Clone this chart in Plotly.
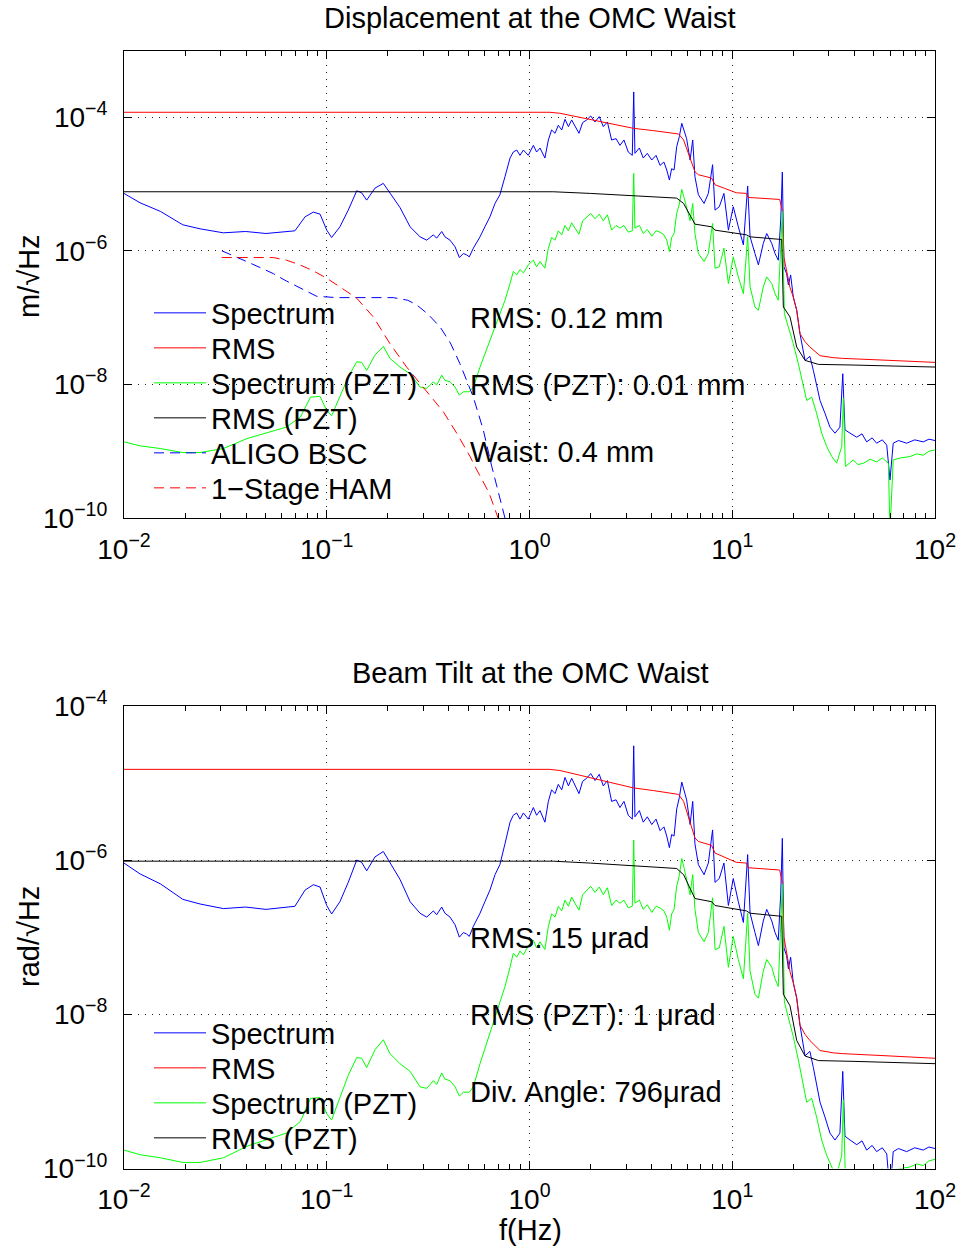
import numpy as np
import plotly.graph_objects as go

FONT = "Liberation Sans, Arial, Helvetica, sans-serif"
W, H = 960, 1249

# ---------------- data: (log10 f [Hz], log10 amplitude) ----------------
disp_spectrum = [
    (-2.000,-5.14),(-1.921,-5.28),(-1.820,-5.41),(-1.710,-5.61),(-1.625,-5.67),(-1.510,-5.73),
    (-1.400,-5.71),(-1.300,-5.74),(-1.157,-5.70),(-1.107,-5.49),(-1.066,-5.42),(-1.033,-5.45),
    (-1.000,-5.69),(-0.976,-5.80),(-0.935,-5.64),(-0.894,-5.39),(-0.852,-5.10),(-0.828,-5.13),
    (-0.803,-5.24),(-0.762,-5.06),(-0.721,-4.99),(-0.688,-5.14),(-0.639,-5.35),(-0.606,-5.54),
    (-0.589,-5.64),(-0.540,-5.79),(-0.507,-5.84),(-0.474,-5.76),(-0.458,-5.81),(-0.433,-5.71),
    (-0.417,-5.79),(-0.392,-5.84),(-0.367,-5.94),(-0.346,-6.10),(-0.326,-6.04),(-0.310,-6.06),
    (-0.297,-6.09),(-0.277,-5.96),(-0.244,-5.79),(-0.220,-5.64),(-0.195,-5.49),(-0.170,-5.29),
    (-0.146,-5.16),(-0.121,-4.89),(-0.096,-4.61),(-0.080,-4.52),(-0.063,-4.49),(-0.047,-4.57),
    (-0.030,-4.49),(-0.006,-4.57),(0.019,-4.42),(0.035,-4.52),(0.052,-4.46),(0.076,-4.61),
    (0.093,-4.34),(0.109,-4.19),(0.126,-4.24),(0.142,-4.12),(0.159,-4.19),(0.175,-4.03),
    (0.192,-4.14),(0.208,-4.04),(0.224,-4.14),(0.244,-4.24),(0.262,-4.08),(0.282,-4.04),
    (0.302,-3.98),(0.323,-4.07),(0.344,-3.99),(0.364,-4.14),(0.384,-4.07),(0.405,-4.34),
    (0.427,-4.32),(0.446,-4.42),(0.466,-4.34),(0.487,-4.52),(0.507,-4.57),(0.514,-3.62),
    (0.520,-4.54),(0.542,-4.46),(0.561,-4.61),(0.581,-4.54),(0.603,-4.64),(0.624,-4.57),
    (0.644,-4.72),(0.663,-4.67),(0.677,-4.79),(0.690,-4.94),(0.701,-4.77),(0.713,-4.79),
    (0.726,-4.44),(0.739,-4.29),(0.751,-4.09),(0.762,-4.19),(0.775,-4.32),(0.792,-4.64),
    (0.805,-4.34),(0.816,-4.89),(0.833,-5.16),(0.861,-5.29),(0.882,-5.14),(0.903,-4.71),
    (0.915,-5.39),(0.936,-5.34),(0.959,-5.14),(0.981,-5.69),(1.005,-5.34),(1.030,-5.64),
    (1.055,-5.91),(1.076,-5.03),(1.088,-5.79),(1.112,-6.04),(1.129,-6.21),(1.153,-5.89),
    (1.170,-5.74),(1.195,-5.89),(1.211,-6.04),(1.227,-6.14),(1.239,-5.54),(1.247,-4.82),
    (1.255,-6.24),(1.268,-6.34),(1.277,-6.51),(1.288,-6.36),(1.301,-6.69),(1.318,-6.89),
    (1.334,-7.24),(1.359,-7.64),(1.383,-7.58),(1.400,-7.79),(1.416,-7.99),(1.433,-8.24),
    (1.457,-8.43),(1.482,-8.64),(1.507,-8.73),(1.531,-8.64),(1.545,-7.84),(1.556,-8.68),
    (1.581,-8.73),(1.614,-8.79),(1.640,-8.74),(1.663,-8.86),(1.690,-8.80),(1.712,-8.88),
    (1.740,-8.83),(1.762,-8.91),(1.778,-9.43),(1.794,-8.88),(1.820,-8.84),(1.860,-8.88),
    (1.900,-8.83),(1.942,-8.86),(1.970,-8.82),(2.000,-8.84),
]

disp_rms = [
    (-2.000,-3.925),(0.100,-3.925),(0.150,-3.94),(0.232,-3.99),(0.298,-4.03),(0.381,-4.09),
    (0.512,-4.165),(0.611,-4.20),(0.735,-4.25),(0.760,-4.34),(0.790,-4.59),(0.816,-4.815),
    (0.833,-4.86),(0.898,-4.91),(0.915,-5.01),(0.990,-5.09),(1.020,-5.13),(1.070,-5.14),
    (1.078,-5.20),(1.234,-5.23),(1.247,-5.40),(1.255,-6.10),(1.268,-6.31),(1.285,-6.55),
    (1.301,-6.69),(1.318,-6.89),(1.334,-7.24),(1.359,-7.36),(1.383,-7.44),(1.433,-7.57),
    (1.500,-7.60),(1.545,-7.61),(1.778,-7.64),(2.000,-7.67),
]

disp_spectrum_pzt = [
    (-2.000,-8.86),(-1.921,-8.92),(-1.820,-8.96),(-1.710,-9.02),(-1.625,-9.02),(-1.510,-8.96),
    (-1.393,-8.81),(-1.300,-8.73),(-1.200,-8.64),(-1.130,-8.49),(-1.080,-8.19),(-1.033,-8.18),
    (-1.000,-8.39),(-0.976,-8.47),(-0.935,-8.18),(-0.894,-7.89),(-0.852,-7.66),(-0.828,-7.67),
    (-0.803,-7.79),(-0.762,-7.56),(-0.721,-7.43),(-0.688,-7.61),(-0.639,-7.74),(-0.589,-7.84),
    (-0.540,-8.04),(-0.507,-8.06),(-0.474,-7.96),(-0.458,-8.01),(-0.433,-7.86),(-0.417,-7.94),
    (-0.392,-7.96),(-0.367,-8.04),(-0.346,-8.16),(-0.326,-8.11),(-0.297,-8.11),(-0.277,-8.04),
    (-0.244,-7.74),(-0.220,-7.54),(-0.195,-7.34),(-0.170,-7.14),(-0.146,-6.94),(-0.121,-6.74),
    (-0.096,-6.49),(-0.080,-6.31),(-0.063,-6.36),(-0.047,-6.28),(-0.030,-6.33),(-0.006,-6.21),
    (0.019,-6.14),(0.035,-6.24),(0.052,-6.16),(0.076,-6.26),(0.093,-5.96),(0.109,-5.80),
    (0.126,-5.84),(0.142,-5.70),(0.159,-5.76),(0.175,-5.62),(0.192,-5.70),(0.208,-5.58),
    (0.224,-5.66),(0.244,-5.75),(0.262,-5.55),(0.282,-5.50),(0.302,-5.44),(0.323,-5.52),
    (0.344,-5.45),(0.364,-5.55),(0.384,-5.46),(0.405,-5.69),(0.427,-5.62),(0.446,-5.66),
    (0.466,-5.62),(0.487,-5.72),(0.507,-5.70),(0.514,-4.84),(0.520,-5.66),(0.542,-5.62),
    (0.561,-5.74),(0.581,-5.68),(0.603,-5.78),(0.624,-5.70),(0.644,-5.72),(0.663,-5.76),
    (0.677,-5.84),(0.690,-6.01),(0.701,-5.80),(0.713,-5.74),(0.726,-5.44),(0.739,-5.30),
    (0.751,-5.08),(0.762,-5.20),(0.775,-5.34),(0.792,-5.55),(0.805,-5.29),(0.816,-5.74),
    (0.833,-6.04),(0.861,-6.16),(0.882,-6.04),(0.903,-5.59),(0.915,-6.26),(0.936,-6.24),
    (0.959,-5.96),(0.981,-6.49),(1.005,-6.09),(1.030,-6.39),(1.055,-6.64),(1.076,-5.79),
    (1.088,-6.54),(1.112,-6.84),(1.129,-6.89),(1.153,-6.54),(1.170,-6.39),(1.195,-6.49),
    (1.211,-6.64),(1.227,-6.74),(1.239,-5.94),(1.247,-5.41),(1.257,-6.94),(1.277,-7.14),
    (1.301,-7.39),(1.326,-7.69),(1.351,-8.04),(1.367,-8.24),(1.392,-8.19),(1.416,-8.43),
    (1.441,-8.73),(1.466,-8.93),(1.491,-9.08),(1.515,-9.18),(1.540,-8.93),(1.548,-8.21),
    (1.558,-9.23),(1.597,-9.13),(1.620,-9.20),(1.647,-9.18),(1.680,-9.12),(1.712,-9.16),
    (1.740,-9.10),(1.770,-9.18),(1.778,-10.2),(1.794,-9.13),(1.830,-9.10),(1.876,-9.08),
    (1.910,-9.04),(1.942,-9.06),(1.970,-9.00),(2.000,-8.98),
]

disp_rms_pzt = [
    (-2.000,-5.115),(0.117,-5.115),(0.300,-5.14),(0.512,-5.175),(0.726,-5.21),(0.760,-5.29),
    (0.792,-5.46),(0.816,-5.60),(0.898,-5.64),(0.915,-5.69),(1.070,-5.76),(1.088,-5.79),
    (1.244,-5.83),(1.252,-6.84),(1.285,-6.99),(1.318,-7.44),(1.359,-7.64),(1.425,-7.70),
    (1.600,-7.71),(2.000,-7.74),
]

aligo_bsc = [
    (-1.517,-6.00),(-1.460,-6.08),(-1.395,-6.16),(-1.329,-6.25),(-1.264,-6.34),(-1.200,-6.45),
    (-1.132,-6.55),(-1.050,-6.68),(-0.950,-6.70),(-0.800,-6.70),(-0.672,-6.70),(-0.600,-6.74),
    (-0.556,-6.81),(-0.500,-6.95),(-0.441,-7.14),(-0.390,-7.38),(-0.343,-7.69),(-0.277,-8.19),
    (-0.228,-8.68),(-0.186,-9.23),(-0.150,-9.65),(-0.121,-10.0),
]

one_stage_ham = [
    (-1.518,-6.10),(-1.400,-6.10),(-1.264,-6.10),(-1.198,-6.14),(-1.132,-6.21),(-1.066,-6.30),
    (-1.000,-6.41),(-0.935,-6.54),(-0.852,-6.71),(-0.770,-6.99),(-0.688,-7.39),(-0.606,-7.74),
    (-0.540,-7.99),(-0.425,-8.41),(-0.359,-8.73),(-0.293,-9.08),(-0.260,-9.28),(-0.200,-9.62),
    (-0.155,-10.0),
]

tilt_spectrum = [
    (-2.000,-6.04),(-1.921,-6.18),(-1.820,-6.31),(-1.710,-6.51),(-1.625,-6.57),(-1.510,-6.63),
    (-1.400,-6.61),(-1.300,-6.64),(-1.157,-6.60),(-1.107,-6.39),(-1.066,-6.32),(-1.033,-6.35),
    (-1.000,-6.59),(-0.976,-6.70),(-0.935,-6.54),(-0.894,-6.29),(-0.852,-6.00),(-0.828,-6.03),
    (-0.803,-6.14),(-0.762,-5.96),(-0.721,-5.89),(-0.688,-6.04),(-0.639,-6.25),(-0.606,-6.44),
    (-0.589,-6.54),(-0.540,-6.69),(-0.507,-6.74),(-0.474,-6.66),(-0.458,-6.71),(-0.433,-6.61),
    (-0.417,-6.69),(-0.392,-6.74),(-0.367,-6.84),(-0.346,-7.00),(-0.326,-6.94),(-0.310,-6.96),
    (-0.297,-6.99),(-0.277,-6.86),(-0.244,-6.69),(-0.220,-6.54),(-0.195,-6.39),(-0.170,-6.19),
    (-0.146,-6.06),(-0.121,-5.79),(-0.096,-5.51),(-0.080,-5.42),(-0.063,-5.39),(-0.047,-5.47),
    (-0.030,-5.39),(-0.006,-5.47),(0.019,-5.32),(0.035,-5.42),(0.052,-5.36),(0.076,-5.51),
    (0.093,-5.24),(0.109,-5.09),(0.126,-5.14),(0.142,-5.02),(0.159,-5.09),(0.175,-4.93),
    (0.192,-5.04),(0.208,-4.94),(0.224,-5.04),(0.244,-5.14),(0.262,-4.98),(0.282,-4.94),
    (0.302,-4.88),(0.323,-4.97),(0.344,-4.89),(0.364,-5.04),(0.384,-4.97),(0.405,-5.24),
    (0.427,-5.22),(0.446,-5.32),(0.466,-5.24),(0.487,-5.42),(0.507,-5.47),(0.514,-4.52),
    (0.520,-5.44),(0.542,-5.36),(0.561,-5.51),(0.581,-5.44),(0.603,-5.54),(0.624,-5.47),
    (0.644,-5.62),(0.663,-5.57),(0.677,-5.69),(0.690,-5.84),(0.701,-5.67),(0.713,-5.69),
    (0.726,-5.34),(0.739,-5.19),(0.751,-4.99),(0.762,-5.09),(0.775,-5.22),(0.792,-5.54),
    (0.805,-5.24),(0.816,-5.79),(0.833,-6.06),(0.861,-6.19),(0.882,-6.04),(0.903,-5.61),
    (0.915,-6.29),(0.936,-6.24),(0.959,-6.04),(0.981,-6.59),(1.005,-6.24),(1.030,-6.54),
    (1.055,-6.81),(1.076,-5.93),(1.088,-6.69),(1.112,-6.94),(1.129,-7.11),(1.153,-6.79),
    (1.170,-6.64),(1.195,-6.79),(1.211,-6.94),(1.227,-7.04),(1.239,-6.44),(1.247,-5.72),
    (1.255,-7.14),(1.268,-7.24),(1.277,-7.41),(1.288,-7.26),(1.301,-7.59),(1.318,-7.79),
    (1.334,-8.14),(1.359,-8.54),(1.383,-8.48),(1.400,-8.69),(1.416,-8.89),(1.433,-9.14),
    (1.457,-9.33),(1.482,-9.54),(1.507,-9.63),(1.531,-9.54),(1.545,-8.74),(1.556,-9.58),
    (1.581,-9.63),(1.614,-9.69),(1.640,-9.64),(1.663,-9.76),(1.690,-9.70),(1.712,-9.78),
    (1.740,-9.73),(1.762,-9.81),(1.778,-10.33),(1.794,-9.78),(1.820,-9.74),(1.860,-9.78),
    (1.900,-9.73),(1.942,-9.76),(1.970,-9.72),(2.000,-9.74),
]

tilt_rms = [
    (-2.000,-4.825),(0.100,-4.825),(0.150,-4.84),(0.232,-4.89),(0.298,-4.93),(0.381,-4.99),
    (0.512,-5.065),(0.611,-5.10),(0.735,-5.15),(0.760,-5.24),(0.790,-5.49),(0.816,-5.715),
    (0.833,-5.76),(0.898,-5.81),(0.915,-5.91),(0.990,-5.99),(1.020,-6.03),(1.070,-6.04),
    (1.078,-6.10),(1.234,-6.13),(1.247,-6.30),(1.255,-7.00),(1.268,-7.21),(1.285,-7.45),
    (1.301,-7.59),(1.318,-7.79),(1.334,-8.14),(1.359,-8.26),(1.383,-8.34),(1.433,-8.47),
    (1.500,-8.50),(1.545,-8.51),(1.778,-8.54),(2.000,-8.57),
]

tilt_spectrum_pzt = [
    (-2.000,-9.76),(-1.921,-9.82),(-1.820,-9.86),(-1.710,-9.92),(-1.625,-9.92),(-1.510,-9.86),
    (-1.393,-9.71),(-1.300,-9.63),(-1.200,-9.54),(-1.130,-9.39),(-1.080,-9.09),(-1.033,-9.08),
    (-1.000,-9.29),(-0.976,-9.37),(-0.935,-9.08),(-0.894,-8.79),(-0.852,-8.56),(-0.828,-8.57),
    (-0.803,-8.69),(-0.762,-8.46),(-0.721,-8.33),(-0.688,-8.51),(-0.639,-8.64),(-0.589,-8.74),
    (-0.540,-8.94),(-0.507,-8.96),(-0.474,-8.86),(-0.458,-8.91),(-0.433,-8.76),(-0.417,-8.84),
    (-0.392,-8.86),(-0.367,-8.94),(-0.346,-9.06),(-0.326,-9.01),(-0.297,-9.01),(-0.277,-8.94),
    (-0.244,-8.64),(-0.220,-8.44),(-0.195,-8.24),(-0.170,-8.04),(-0.146,-7.84),(-0.121,-7.64),
    (-0.096,-7.39),(-0.080,-7.21),(-0.063,-7.26),(-0.047,-7.18),(-0.030,-7.23),(-0.006,-7.11),
    (0.019,-7.04),(0.035,-7.14),(0.052,-7.06),(0.076,-7.16),(0.093,-6.86),(0.109,-6.70),
    (0.126,-6.74),(0.142,-6.60),(0.159,-6.66),(0.175,-6.52),(0.192,-6.60),(0.208,-6.48),
    (0.224,-6.56),(0.244,-6.65),(0.262,-6.45),(0.282,-6.40),(0.302,-6.34),(0.323,-6.42),
    (0.344,-6.35),(0.364,-6.45),(0.384,-6.36),(0.405,-6.59),(0.427,-6.52),(0.446,-6.56),
    (0.466,-6.52),(0.487,-6.62),(0.507,-6.60),(0.514,-5.74),(0.520,-6.56),(0.542,-6.52),
    (0.561,-6.64),(0.581,-6.58),(0.603,-6.68),(0.624,-6.60),(0.644,-6.62),(0.663,-6.66),
    (0.677,-6.74),(0.690,-6.91),(0.701,-6.70),(0.713,-6.64),(0.726,-6.34),(0.739,-6.20),
    (0.751,-5.98),(0.762,-6.10),(0.775,-6.24),(0.792,-6.45),(0.805,-6.19),(0.816,-6.64),
    (0.833,-6.94),(0.861,-7.06),(0.882,-6.94),(0.903,-6.49),(0.915,-7.16),(0.936,-7.14),
    (0.959,-6.86),(0.981,-7.39),(1.005,-6.99),(1.030,-7.29),(1.055,-7.54),(1.076,-6.69),
    (1.088,-7.44),(1.112,-7.74),(1.129,-7.79),(1.153,-7.44),(1.170,-7.29),(1.195,-7.39),
    (1.211,-7.54),(1.227,-7.64),(1.239,-6.84),(1.247,-6.31),(1.257,-7.84),(1.277,-8.04),
    (1.301,-8.29),(1.326,-8.59),(1.351,-8.94),(1.367,-9.14),(1.392,-9.09),(1.416,-9.33),
    (1.441,-9.63),(1.466,-9.83),(1.491,-9.98),(1.515,-10.08),(1.540,-9.83),(1.548,-9.11),
    (1.558,-10.13),(1.597,-10.03),(1.620,-10.10),(1.647,-10.08),(1.680,-10.02),(1.712,-10.06),
    (1.740,-10.00),(1.770,-10.08),(1.778,-11.1),(1.794,-10.03),(1.830,-10.00),(1.876,-9.98),
    (1.910,-9.94),(1.942,-9.96),(1.970,-9.90),(2.000,-9.88),
]

tilt_rms_pzt = [
    (-2.000,-6.015),(0.117,-6.015),(0.300,-6.04),(0.512,-6.075),(0.726,-6.11),(0.760,-6.19),
    (0.792,-6.36),(0.816,-6.50),(0.898,-6.54),(0.915,-6.59),(1.070,-6.66),(1.088,-6.69),
    (1.244,-6.73),(1.252,-7.74),(1.285,-7.89),(1.318,-8.34),(1.359,-8.54),(1.425,-8.60),
    (1.600,-8.61),(2.000,-8.64),
]

# tick labels
x_tick_vals = [1e-2, 1e-1, 1e0, 1e1, 1e2]
x_tick_text = ["10<sup>−2</sup>", "10<sup>−1</sup>", "10<sup>0</sup>", "10<sup>1</sup>", "10<sup>2</sup>"]
y_tick_vals = [1e-10, 1e-8, 1e-6, 1e-4]
y_tick_text = ["10<sup>−10</sup>", "10<sup>−8</sup>", "10<sup>−6</sup>", "10<sup>−4</sup>"]

top_labels = ["RMS: 0.12 mm", "RMS (PZT): 0.01 mm", "Waist: 0.4 mm"]
bottom_labels = ["RMS: 15 μrad", "RMS (PZT): 1 μrad", "Div. Angle: 796μrad"]

# ---------------- figure ----------------
def to_xy(pairs):
    arr = np.array(pairs, dtype=float)
    return 10 ** arr[:, 0], 10 ** arr[:, 1]

BLUE, RED, GREEN, BLACK = "#0000ff", "#ff0000", "#00ff00", "#000000"
DASH = "10px,6px"
TXT = 29

top_series = [
    ("Spectrum", disp_spectrum, BLUE, "solid"),
    ("RMS", disp_rms, RED, "solid"),
    ("Spectrum (PZT)", disp_spectrum_pzt, GREEN, "solid"),
    ("RMS (PZT)", disp_rms_pzt, BLACK, "solid"),
    ("ALIGO BSC", aligo_bsc, BLUE, DASH),
    ("1−Stage HAM", one_stage_ham, RED, DASH),
]
bottom_series = [
    ("Spectrum", tilt_spectrum, BLUE, "solid"),
    ("RMS", tilt_rms, RED, "solid"),
    ("Spectrum (PZT)", tilt_spectrum_pzt, GREEN, "solid"),
    ("RMS (PZT)", tilt_rms_pzt, BLACK, "solid"),
]

top_rows = [313, 348, 383, 418, 453, 488]
bottom_rows = [1033, 1068, 1103, 1138]
LEG_X = 149 / W

fig = go.Figure()
legends = {}
n = 0
for series, rows, xa, ya in [(top_series, top_rows, "x", "y"), (bottom_series, bottom_rows, "x2", "y2")]:
    for (name, pts, color, dash), row in zip(series, rows):
        n += 1
        lid = "legend" if n == 1 else f"legend{n}"
        x, y = to_xy(pts)
        fig.add_trace(go.Scatter(x=x, y=y, mode="lines", name=name, xaxis=xa, yaxis=ya,
                                 line=dict(color=color, width=1, dash=dash), legend=lid,
                                 showlegend=True))
        legends[lid] = dict(x=LEG_X, y=1 - row / H, xanchor="left", yanchor="middle",
                            bgcolor="rgba(0,0,0,0)", borderwidth=0, itemwidth=52, visible=True,
                            font=dict(family=FONT, size=TXT, color="black"))

minor_x = [k * 10.0 ** e for e in range(-2, 2) for k in range(2, 10)]
XDOM = [124 / W, 935 / W]

def xaxis(anchor):
    return dict(type="log", range=[-2, 2], domain=XDOM, anchor=anchor, automargin=False,
                showline=True, linecolor="black", linewidth=1, mirror="ticks",
                ticks="inside", ticklen=8, tickwidth=1, tickcolor="black",
                tickmode="array", tickvals=x_tick_vals, ticktext=x_tick_text,
                tickfont=dict(family=FONT, size=28, color="black"), ticklabelstandoff=6,
                showgrid=True, gridcolor="#222222", gridwidth=1, griddash="1px,6px",
                zeroline=False,
                minor=dict(tickmode="array", tickvals=minor_x, ticks="inside", ticklen=5,
                           tickwidth=1, tickcolor="black", showgrid=False))

def yaxis(anchor, rng, dom):
    return dict(type="log", range=rng, domain=dom, anchor=anchor, automargin=False,
                showline=True, linecolor="black", linewidth=1, mirror="ticks",
                ticks="inside", ticklen=8, tickwidth=1, tickcolor="black",
                tickmode="array", tickvals=y_tick_vals, ticktext=y_tick_text,
                tickfont=dict(family=FONT, size=28, color="black"), ticklabelstandoff=10,
                showgrid=True, gridcolor="#222222", gridwidth=1, griddash="1px,6px",
                zeroline=False)

annotations = []
def txt(text, px, py, xanchor="left", angle=0, size=TXT):
    annotations.append(dict(text=text, x=px / W, y=1 - py / H, xref="paper", yref="paper",
                            xanchor=xanchor, yanchor="middle", showarrow=False, textangle=angle,
                            font=dict(family=FONT, size=size, color="black")))

txt("Displacement at the OMC Waist", 530, 18, "center")
txt("Beam Tilt at the OMC Waist", 530, 673, "center")
txt("m/√Hz", 29, 276, "center", -90)
txt("rad/√Hz", 29, 937, "center", -90)
txt("f(Hz)", 530, 1230, "center")
for label, py in zip(top_labels, [318, 385, 452]):
    txt(label, 468, py)
for label, py in zip(bottom_labels, [938, 1015, 1092]):
    txt(label, 468, py)

fig.update_layout(
    width=W, height=H, margin=dict(l=0, r=0, t=0, b=0, autoexpand=False),
    paper_bgcolor="white", plot_bgcolor="white", showlegend=True,
    xaxis=xaxis("y"), xaxis2=xaxis("y2"),
    yaxis=yaxis("x", [-10, -3], [(H - 518) / H, (H - 50.5) / H]),
    yaxis2=yaxis("x2", [-10, -4], [(H - 1168.6) / H, (H - 705.7) / H]),
    annotations=annotations,
    font=dict(family=FONT, size=28, color="black"),
    **legends,
)

fig.write_html("out.html", config={"displayModeBar": False},
               post_script="document.body.style.margin='0';document.body.style.overflow='hidden';")
